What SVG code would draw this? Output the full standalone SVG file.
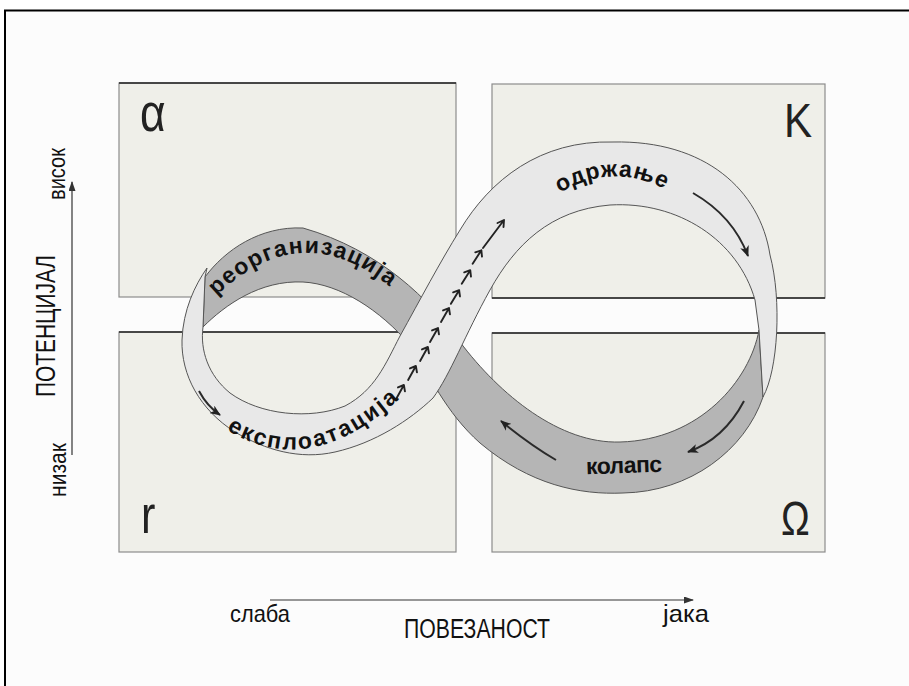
<svg xmlns="http://www.w3.org/2000/svg" width="909" height="686" viewBox="0 0 909 686">
<defs>
<style>
.box{fill:#efefe9;stroke:#8c8c8c;stroke-width:1.2}
.edge{fill:none;stroke:#222;stroke-width:1.5}
.greek{font-family:"Liberation Sans",Arial,sans-serif;fill:#222}
.lbl{font-family:"Liberation Sans",Arial,sans-serif;font-weight:bold;fill:#111;font-size:23px}
.ax{font-family:"Liberation Sans",Arial,sans-serif;fill:#111}
.light{fill:#e8e8e8;stroke:#555;stroke-width:1}
.dark{fill:#b5b5b5;stroke:#555;stroke-width:1}
.flow{fill:none;stroke:#2a2a2a;stroke-width:2}
.chev{fill:none;stroke:#222;stroke-width:1.9;stroke-linecap:round;stroke-linejoin:round}
.axis{fill:none;stroke:#333;stroke-width:1.2}
</style>
<marker id="ah" markerUnits="userSpaceOnUse" markerWidth="12" markerHeight="9" refX="10" refY="4.5" orient="auto">
<path d="M0,0 L11,4.5 L0,9 L3,4.5 Z" fill="#222"/>
</marker>
<marker id="axh" markerUnits="userSpaceOnUse" markerWidth="10" markerHeight="7" refX="9" refY="3.5" orient="auto">
<path d="M0,0 L10,3.5 L0,7 Z" fill="#333"/>
</marker>
<path id="chevron" d="M0,8 L0,-8 M-4,-3 L0,-8 L4,-3"/>
<path id="pReorg" d="M214,298 Q303,211 396,292"/>
<path id="pExpl" d="M224,428 Q307,482 398,400"/>
<path id="pCons" d="M558,194 Q614,160 670,192"/>
</defs>

<rect x="0" y="0" width="909" height="686" fill="#ffffff"/>
<rect id="frame" x="5" y="10.5" width="1000" height="1000" fill="#fcfcfc" stroke="#000" stroke-width="2"/>

<g id="alpha">
<rect class="box" x="119" y="83" width="337" height="214"/>
<line x1="119" y1="83" x2="456" y2="83" class="edge"/>
<text class="greek" font-size="54" transform="translate(140,131) scale(0.82,1)">α</text>
</g>
<g id="K">
<rect class="box" x="492" y="84" width="333" height="214"/>
<line x1="492" y1="298" x2="825" y2="298" class="edge"/>
<text class="greek" font-size="49" transform="translate(784,137) scale(0.86,1)">K</text>
</g>
<g id="r">
<rect class="box" x="119" y="332" width="337" height="220"/>
<line x1="119" y1="332" x2="456" y2="332" class="edge" stroke="#555"/>
<text class="greek" font-size="54" transform="translate(141,533) scale(0.8,1)">r</text>
</g>
<g id="Omega">
<rect class="box" x="492" y="333" width="333" height="219"/>
<line x1="492" y1="333" x2="825" y2="333" class="edge" stroke="#555"/>
<text class="greek" font-size="48" transform="translate(781,535) scale(0.8,1)">Ω</text>
</g>

<g id="connectors">
<path id="release-reorg" class="dark" d="M759,330 C750,380 700,440 620,442 C560,444 500,395 460,342 C430,300 380,250 303,228 C260,226 225,250 205,277 L203,327 C225,305 260,280 303,282 C340,284 380,310 410,345 C430,375 445,412 480,443 C530,485 580,495 623,493 C690,492 745,450 763,397 Z"/>
<path id="exploit-conserve" class="light" d="M207,268 C195,285 183,310 182,340 C181,375 200,410 235,432 C265,450 300,460 335,452 C375,443 410,420 433,398 C450,375 465,335 490,290 C515,245 550,210 610,205 C678,201 738,240 755,300 L759,330 L763,397 C778,370 782,300 770,255 C760,190 705,140 613,142 C540,140 490,180 460,230 C440,262 420,300 400,336 C385,365 375,390 345,406 C310,420 260,415 230,393 C208,375 200,350 203,327 L205,277 Z"/>

<path class="flow" d="M199,391 Q207,406 220,415" marker-end="url(#ah)"/>
<path class="flow" d="M693,193 Q733,216 748,256" marker-end="url(#ah)"/>
<path class="flow" d="M744,401 Q724,439 688,452" marker-end="url(#ah)"/>
<path class="flow" d="M556,460 Q529,444 501,421" marker-end="url(#ah)"/>

<g class="chev">
<use href="#chevron" transform="translate(400,392) rotate(29)"/>
<use href="#chevron" transform="translate(412,373) rotate(29)"/>
<use href="#chevron" transform="translate(424,354) rotate(29)"/>
<use href="#chevron" transform="translate(434,335) rotate(30)"/>
<use href="#chevron" transform="translate(445,315) rotate(30)"/>
<use href="#chevron" transform="translate(455,297) rotate(31)"/>
<use href="#chevron" transform="translate(466,277) rotate(32)"/>
<use href="#chevron" transform="translate(477,257) rotate(33)"/>
<path d="M483,248 L504,220 M497.5,223 L504,220 L503.5,227"/>
</g>
</g>

<g id="labels">
<text class="lbl"><textPath href="#pReorg" startOffset="3" textLength="194" lengthAdjust="spacing">реорганизација</textPath></text>
<text class="lbl"><textPath href="#pExpl" startOffset="3" textLength="190" lengthAdjust="spacing">експлоатација</textPath></text>
<text class="lbl" font-size="22"><textPath href="#pCons" startOffset="2" textLength="110" lengthAdjust="spacing">одржање</textPath></text>
<text class="lbl" font-size="24" x="586" y="473" textLength="76" lengthAdjust="spacing" transform="rotate(-2 625 465)">колапс</text>
</g>

<g id="axes">
<line class="axis" x1="72" y1="455" x2="72" y2="182" marker-end="url(#axh)"/>
<line class="axis" x1="270" y1="600" x2="693" y2="600" marker-end="url(#axh)"/>
<text class="ax" font-size="23" transform="translate(65,200) rotate(-90)" textLength="52" lengthAdjust="spacingAndGlyphs">висок</text>
<text class="ax" font-size="27" transform="translate(55,397) rotate(-90)" textLength="142" lengthAdjust="spacingAndGlyphs">ПОТЕНЦИЈАЛ</text>
<text class="ax" font-size="23" transform="translate(66,497) rotate(-90)" textLength="54" lengthAdjust="spacingAndGlyphs">низак</text>
<text class="ax" font-size="24" x="230" y="622" textLength="60" lengthAdjust="spacingAndGlyphs">слаба</text>
<text class="ax" font-size="27" x="404" y="638" textLength="146" lengthAdjust="spacingAndGlyphs">ПОВЕЗАНОСТ</text>
<text class="ax" font-size="24" x="663" y="622" textLength="46" lengthAdjust="spacingAndGlyphs">јака</text>
</g>
</svg>
